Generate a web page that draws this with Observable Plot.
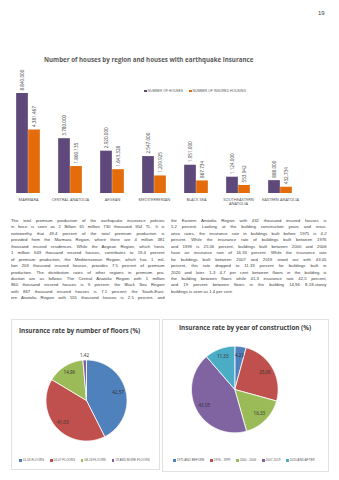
<!DOCTYPE html>
<html>
<head>
<meta charset="utf-8">
<script src="https://cdn.jsdelivr.net/npm/d3@7"></script>
<script src="https://cdn.jsdelivr.net/npm/@observablehq/plot@0.6"></script>
<style>
  html, body { margin: 0; padding: 0; background: #fff; }
  #page { position: relative; width: 339px; height: 480px; overflow: hidden; font-family: "Liberation Sans", Arial, sans-serif; color: #404040; }
  .abs { position: absolute; }
  .title { font-family: "Open Sans", sans-serif; font-weight: bold; line-height: 1; white-space: nowrap; }
  .line { position: absolute; height: 6px; line-height: 6px; font-size: 4.25px; text-align: justify; text-align-last: justify; overflow: hidden; color: #3c3c3c; }
  .line.last { text-align-last: left; }
  .legend { position: absolute; display: flex; justify-content: center; align-items: center; white-space: nowrap; font-size: 3.1px; color: #595959; line-height: 1; }
  .legend span.sw { display: inline-block; width: 2.4px; height: 2.4px; margin-right: 1px; }
  .legend span.item { display: inline-flex; align-items: center; margin: 0 3px; }
  .box { position: absolute; border: 0.6px solid #e2e2e2; }
</style>
</head>
<body>
<div id="page"></div>
<script>
// ---------- data ----------
const regions = ["MARMARA", "CENTRAL ANATOLIA", "AEGEAN", "MEDITERRENIAN", "BLACK SEA", "SOUTHEASTERN ANATOLIA", "EASTERN ANATOLIA"];
const houses = [8840000, 3780000, 2920000, 2547000, 1951000, 1124000, 888000];
const insured = [4381467, 1860135, 1643328, 1209925, 867734, 553942, 432734];
const seriesNames = ["NUMBER OF HOUSES", "NUMBER OF INSURED HOUSING"];
const seriesColors = ["#5F497A", "#E46C0A"];
const yMax = 6900000;

const floorLabels = ["01-03 FLOORS", "04-07 FLOORS", "08-18 FLOORS", "19 AND MORE FLOORS"];
const floorRates = [42.57, 41.03, 14.96, 1.42];
const yearLabels = ["1975 AND BEFORE", "1976 - 1999", "2000 - 2006", "2007-2019", "2020 AND AFTER"];
const yearRates = [4.23, 25.06, 16.33, 43.05, 11.33];
const pieColors = ["#4F81BD", "#C0504D", "#9BBB59", "#8064A2", "#4BACC6"];

const pageNumber = "19";
const barTitle = "Number of houses by region and houses with earthquake insurance";
const floorTitle = "Insurance rate by number of floors (%)";
const yearTitle = "Insurance rate by year of construction (%)";

const leftLines = [
  "The total premium production of the earthquake insurance policies",
  "in force is seen as 2 Billion 61 million 730 thousand 954 TL. It is",
  "noteworthy that 49.4 percent of the total premium production is",
  "provided from the Marmara Region, where there are 4 million 381",
  "thousand insured residences. While the Aegean Region, which hosts",
  "1 million 643 thousand insured houses, contributes to 19.4 percent",
  "of premium production, the Mediterranean Region, which has 1 mil-",
  "lion 209 thousand insured houses, provides 7.5 percent of premium",
  "production. The distribution rates of other regions in premium pro-",
  "duction are as follows: The Central Anatolia Region with 1 million",
  "860 thousand insured houses is 9 percent; the Black Sea Region",
  "with 867 thousand insured houses is 7.1 percent; the South-East-",
  "ern Anatolia Region with 555 thousand houses is 2.5 percent, and"
];
const rightLines = [
  "the Eastern Anatolia Region with 432 thousand insured houses is",
  "5.2 percent. Looking at the building construction years and insur-",
  "ance rates, the insurance rate in buildings built before 1975 is 4.2",
  "percent. While the insurance rate of buildings built between 1976",
  "and 1999 is 25.06 percent, buildings built between 2000 and 2006",
  "have an insurance rate of 16.33 percent. While the insurance rate",
  "for buildings built between 2007 and 2019 stood out with 43.05",
  "percent, this rate dropped to 11.33 percent for buildings built in",
  "2020 and later. 1-3 4-7 per cent between floors in the building is",
  "the building between floors while 41,3 insurance rate 42,5 percent,",
  "and 19 percent between floors in the building 14,96 8-18-storey",
  "buildings is seen as 1.4 per cent."
];

// ---------- helpers ----------
const page = document.getElementById("page");
function add(html, style, cls) {
  const d = document.createElement("div");
  d.className = cls || "abs";
  d.innerHTML = html;
  Object.assign(d.style, style);
  page.appendChild(d);
  return d;
}
const fmt = v => d3.format(",")(v).replace(/,/g, ".");

// page number
add(pageNumber, {left: "318px", top: "10px", fontSize: "6px", color: "#404040"});

// ---------- bar chart ----------
add(barTitle, {left: "44px", top: "56.8px", fontSize: "6.2px", color: "#595959"}, "abs title");

const rows = regions.flatMap((r, i) => [
  {region: r, series: 0, value: houses[i]},
  {region: r, series: 1, value: insured[i]}
]);
const s0 = rows.filter(d => d.series === 0);
const s1 = rows.filter(d => d.series === 1);

const bar = Plot.plot({
  width: 339, height: 150,
  marginTop: 30, marginBottom: 20, marginLeft: 6, marginRight: 37,
  x: {domain: regions, padding: 0},
  y: {domain: [0, yMax], axis: null},
  style: {background: "transparent", overflow: "visible"},
  marks: [
    Plot.barY(s0, {x: "region", y: "value", fill: seriesColors[0], insetLeft: 9.15, insetRight: 21.15, clip: true}),
    Plot.barY(s1, {x: "region", y: "value", fill: seriesColors[1], insetLeft: 21.15, insetRight: 9.15, clip: true}),
    Plot.text(s0, {x: "region", y: d => Math.min(d.value, yMax), text: d => fmt(d.value), rotate: -90, textAnchor: "start", dx: -6, dy: -3, fontSize: 4.6, fill: "#4a4a4a"}),
    Plot.text(s1, {x: "region", y: d => Math.min(d.value, yMax), text: d => fmt(d.value), rotate: -90, textAnchor: "start", dx: 6, dy: -3, fontSize: 4.6, fill: "#4a4a4a"}),
    Plot.axisX({tickSize: 0, tickPadding: 5, fontSize: 4, lineWidth: 12, color: "#595959", label: null})
  ]
});
bar.style.position = "absolute";
bar.style.left = "0px";
bar.style.top = "63.3px";
page.appendChild(bar);

// bar legend
add(seriesNames.map((n, i) => `<span class="item"><span class="sw" style="background:${seriesColors[i]}"></span>${n}</span>`).join(""),
  {left: "120px", width: "150px", top: "89.5px", fontSize: "3.4px"}, "legend");

// ---------- body text ----------
const lh = 6.44;
leftLines.forEach((t, i) => add(t, {left: "11px", width: "153.5px", top: (218 + i * lh) + "px"}, "line"));
rightLines.forEach((t, i) => add(t, {left: "171px", width: "155.5px", top: (218 + i * lh) + "px"}, i === rightLines.length - 1 ? "line last" : "line"));

// ---------- pie panels ----------
add("", {left: "11px", top: "319px", width: "147px", height: "149px"}, "box");
add("", {left: "162px", top: "319px", width: "165px", height: "151px"}, "box");

add(floorTitle, {left: "19px", top: "327.5px", fontSize: "6.3px", color: "#404040"}, "abs title");
add(yearTitle, {left: "179px", top: "324.8px", fontSize: "6.3px", color: "#404040"}, "abs title");

function pie(labels, values, colors, width, height, cx, cy, r) {
  const total = d3.sum(values);
  let acc = 0;
  const pts = [], labs = [];
  values.forEach((v, i) => {
    const a0 = acc / total * 2 * Math.PI; acc += v;
    const a1 = acc / total * 2 * Math.PI;
    const n = Math.max(2, Math.ceil((a1 - a0) / (Math.PI / 180)));
    pts.push({key: labels[i], x: 0, y: 0});
    for (let k = 0; k <= n; k++) {
      const a = a0 + (a1 - a0) * k / n;
      pts.push({key: labels[i], x: Math.sin(a), y: Math.cos(a)});
    }
    pts.push({key: labels[i], x: 0, y: 0});
    const am = (a0 + a1) / 2;
    const f = v / total < 0.03 ? 1.1 : 0.8;
    labs.push({x: f * Math.sin(am), y: f * Math.cos(am), text: v.toFixed(2).replace(".", ",")});
  });
  return Plot.plot({
    width, height, margin: 0,
    x: {domain: [-cx / r, (width - cx) / r], axis: null},
    y: {domain: [-(height - cy) / r, cy / r], axis: null},
    color: {domain: labels, range: colors},
    style: {background: "transparent", overflow: "visible"},
    marks: [
      Plot.line(pts, {x: "x", y: "y", z: "key", fill: "key", stroke: "white", strokeWidth: 0.8, strokeLinejoin: "round"}),
      Plot.text(labs, {x: "x", y: "y", text: "text", fontSize: 4.5, fill: "#333333"})
    ]
  });
}

const p1 = pie(floorLabels, floorRates, pieColors, 150, 120, 75, 60, 40.5);
Object.assign(p1.style, {position: "absolute", left: "11px", top: "340px"});
page.appendChild(p1);
const p2 = pie(yearLabels, yearRates, pieColors, 150, 110, 70.3, 54, 43.3);
Object.assign(p2.style, {position: "absolute", left: "164px", top: "335px"});
page.appendChild(p2);

add(floorLabels.map((n, i) => `<span class="item"><span class="sw" style="background:${pieColors[i]}"></span>${n}</span>`).join(""),
  {left: "11px", width: "147px", top: "459px"}, "legend");
add(yearLabels.map((n, i) => `<span class="item"><span class="sw" style="background:${pieColors[i]}"></span>${n}</span>`).join(""),
  {left: "160px", width: "168px", top: "459px"}, "legend");
</script>
</body>
</html>
